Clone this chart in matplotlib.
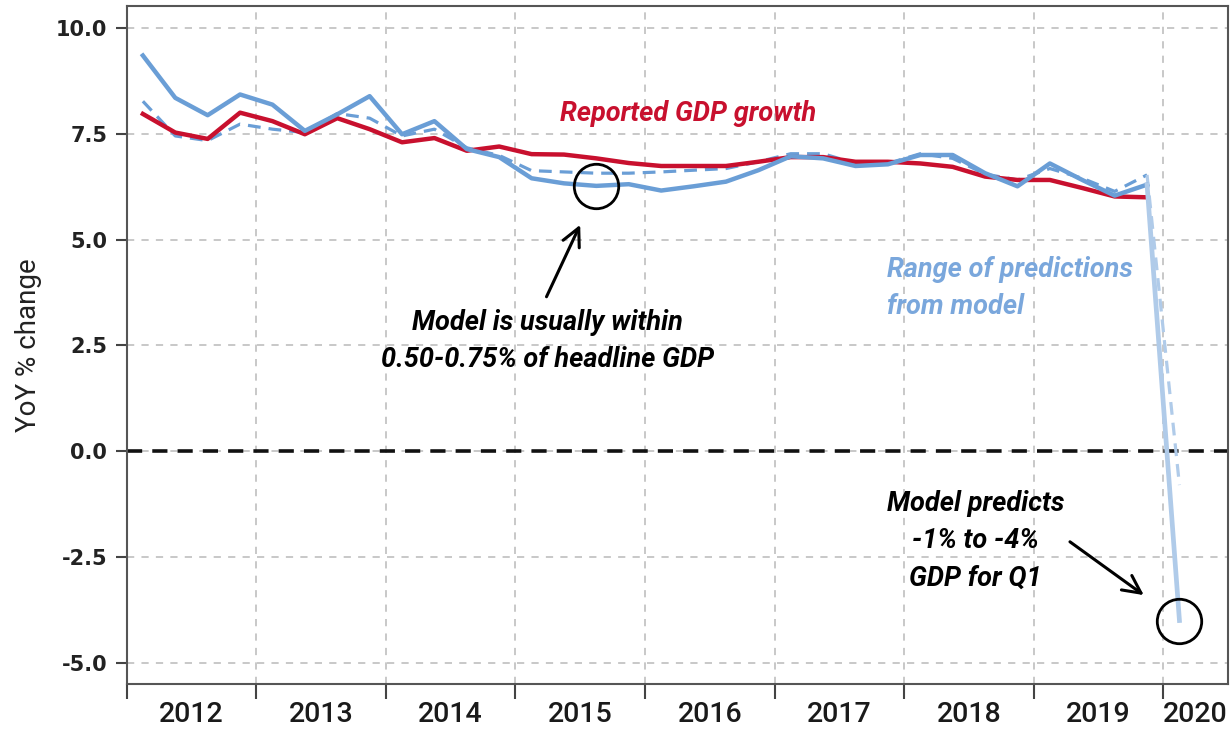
import matplotlib.pyplot as plt
from matplotlib.ticker import FixedLocator, NullFormatter

narrow = ['Roboto', 'DejaVu Sans']

# quarterly data, plotted at mid-quarter
quarters = [f"{y}Q{q}" for y in range(2012, 2020) for q in range(1, 5)] + ["2020Q1"]
x = [int(s[:4]) + (int(s[-1]) - 0.5) / 4 for s in quarters]

# reported GDP growth (to 2019Q4)
reported = [7.97, 7.53, 7.38, 8.00, 7.80, 7.49, 7.87, 7.61,
            7.30, 7.40, 7.10, 7.20, 7.02, 7.01, 6.92, 6.81,
            6.74, 6.74, 6.74, 6.84, 6.95, 6.95, 6.84, 6.84,
            6.80, 6.72, 6.49, 6.41, 6.41, 6.22, 6.02, 6.00]
# model predictions, upper and lower (to 2020Q1)
model_low = [9.35, 8.35, 7.94, 8.43, 8.19, 7.57, 7.96, 8.39,
             7.49, 7.80, 7.14, 6.95, 6.45, 6.33, 6.27, 6.31,
             6.16, 6.26, 6.37, 6.64, 6.97, 6.92, 6.74, 6.78,
             7.00, 7.00, 6.57, 6.26, 6.80, 6.41, 6.04, 6.30, -4.0]
model_high = [8.27, 7.45, 7.34, 7.73, 7.61, 7.53, 7.98, 7.87,
              7.45, 7.61, 7.17, 6.99, 6.63, 6.60, 6.57, 6.57,
              6.60, 6.64, 6.68, 6.84, 7.03, 7.03, 6.80, 6.80,
              7.03, 6.92, 6.55, 6.41, 6.68, 6.45, 6.14, 6.53, -0.8]

year_labels = ['2012', '2013', '2014', '2015', '2016', '2017', '2018', '2019', '2020']
year_pos = [2012.5, 2013.5, 2014.5, 2015.5, 2016.5, 2017.5, 2018.5, 2019.5, 2020.25]
year_edges = [2012, 2013, 2014, 2015, 2016, 2017, 2018, 2019, 2020]
yticks = [-5.0, -2.5, 0.0, 2.5, 5.0, 7.5, 10.0]

red = '#c8102e'
blue = '#6a9ed6'
light = '#b0cbe9'

fig = plt.figure(figsize=(12.3, 7.35), dpi=100)
ax = fig.add_axes([0.103, 0.0694, 0.8954, 0.9224])

n = len(reported)
ax.plot(x[:n], model_high[:n], color=blue, lw=2.3, dashes=(4, 2.5), zorder=3)
ax.plot(x[n - 1:], model_high[n - 1:], color=light, lw=2.3, dashes=(4, 2.5), zorder=3)
ax.plot(x[:n], reported, color=red, lw=3.2, zorder=4)
ax.plot(x[:n], model_low[:n], color=blue, lw=3.2, zorder=5)
ax.plot(x[n - 1:], model_low[n - 1:], color=light, lw=3.4, zorder=5)

ax.axhline(0, color='#111111', lw=2.6, dashes=(4.2, 2.8), zorder=2)

# circles on the highlighted points
ax.plot([x[14], x[32]], [model_low[14], model_low[32]], 'o', ms=32, mfc='none',
        mec='black', mew=2, zorder=6)

ax.set_xlim(2012, 2020.5)
ax.set_ylim(-5.5, 10.52)
ax.set_yticks(yticks)
ax.set_yticklabels([f"{v:.1f}" for v in yticks], fontsize=15, fontweight='bold',
                   color='#222222', family='DejaVu Sans')
ax.xaxis.set_major_locator(FixedLocator(year_edges))
ax.xaxis.set_major_formatter(NullFormatter())
ax.xaxis.set_minor_locator(FixedLocator(year_pos))
ax.set_xticklabels(year_labels, minor=True, fontsize=20.5, color='#1a1a1a', family=narrow,
                   fontweight='medium')
ax.tick_params(axis='x', which='major', length=11, width=1.5, color='#444444', direction='out')
ax.tick_params(axis='x', which='minor', length=0, pad=12)
ax.tick_params(axis='y', length=8, width=1.5, color='#444444', pad=6)

ax.grid(True, which='major', color='#c4c4c4', lw=1.3, dashes=(4, 4))
ax.set_axisbelow(True)
for s in ax.spines.values():
    s.set_color('#555555')
    s.set_linewidth(1.5)

ax.set_ylabel('YoY % change', fontsize=20, family=narrow, color='#222222')
ax.yaxis.set_label_coords(-0.077, 0.5)

ann = dict(fontsize=19.5, fontweight='bold', fontstyle='italic', family=narrow,
           linespacing=1.5)
arrow = dict(arrowstyle='->', lw=2.2, color='black', mutation_scale=32, shrinkA=0, shrinkB=0)
ax.text(2016.33, 7.97, 'Reported GDP growth', color=red, ha='center', va='center', **ann)
ax.text(2017.87, 3.86, 'Range of predictions\nfrom model', color='#7aa7dc',
        ha='left', va='center', **ann)
ax.text(2015.25, 2.6, 'Model is usually within\n0.50-0.75% of headline GDP',
        ha='center', va='center', color='black', **ann)
ax.annotate('', xy=(2015.50, 5.35), xytext=(2015.24, 3.65), arrowprops=arrow)
ax.text(2018.55, -2.12, 'Model predicts\n-1% to -4%\nGDP for Q1',
        ha='center', va='center', color='black', **ann)
ax.annotate('', xy=(2019.85, -3.40), xytext=(2019.28, -2.14), arrowprops=arrow)

fig.savefig('out.png', dpi=100)
